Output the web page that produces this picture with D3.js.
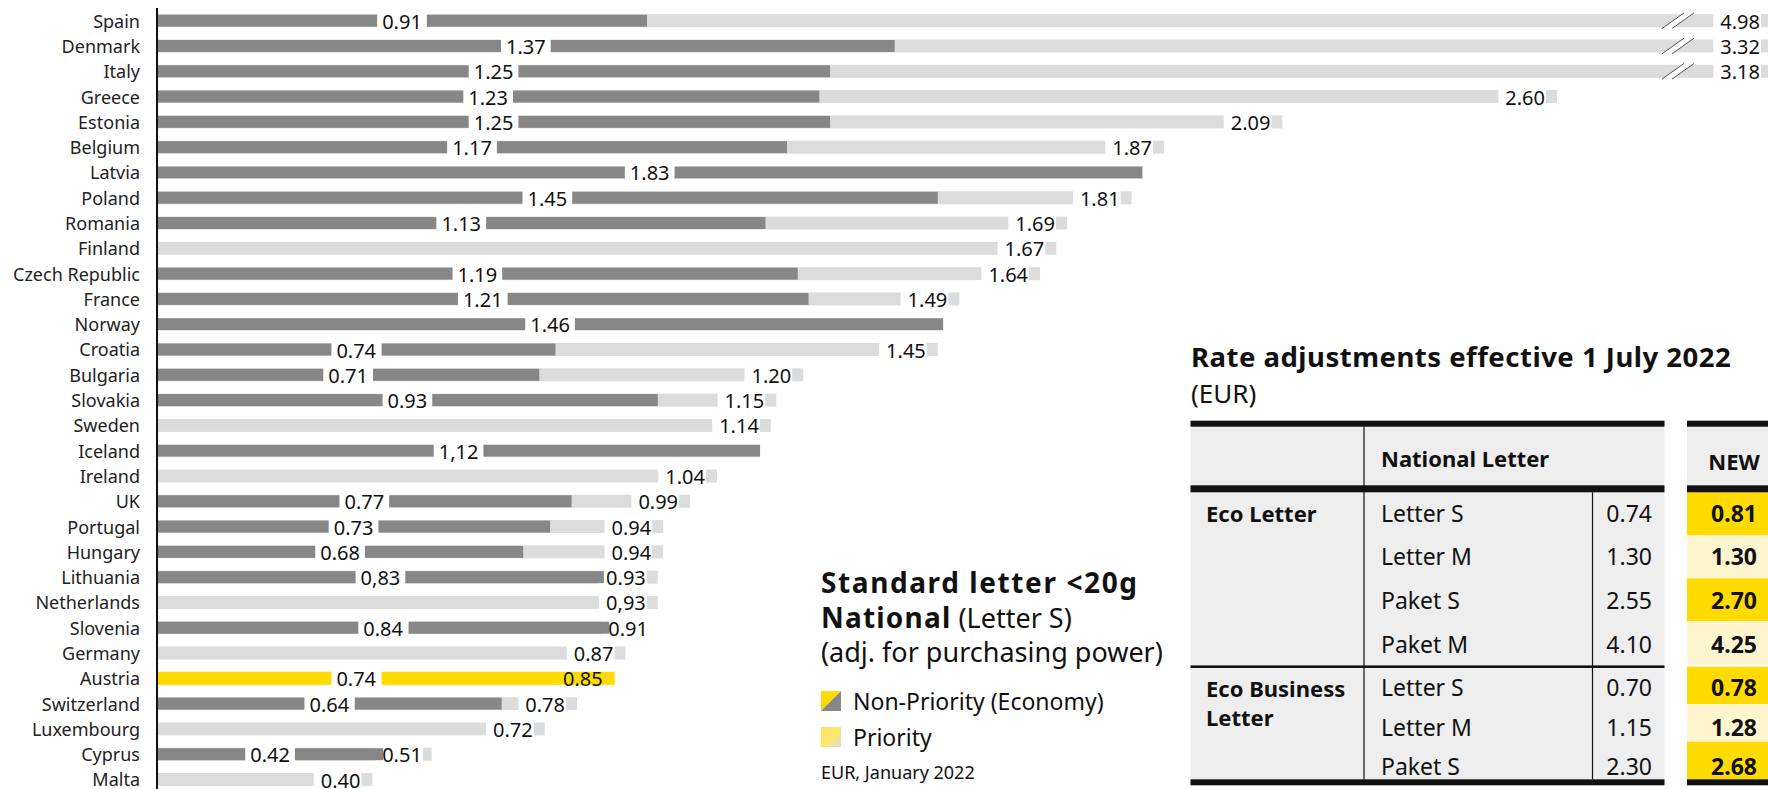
<!DOCTYPE html>
<html>
<head>
<meta charset="utf-8">
<script src="https://cdn.jsdelivr.net/npm/d3@7"></script>
<style>
  html, body { margin: 0; padding: 0; background: #fff; }
  svg { display: block; font-family: "Noto Sans", sans-serif; }
</style>
</head>
<body>
<svg id="chart" width="1768" height="789"></svg>
<script>
// ---- data -------------------------------------------------------------
const countries = ["Spain", "Denmark", "Italy", "Greece", "Estonia", "Belgium", "Latvia", "Poland",
  "Romania", "Finland", "Czech Republic", "France", "Norway", "Croatia", "Bulgaria", "Slovakia",
  "Sweden", "Iceland", "Ireland", "UK", "Portugal", "Hungary", "Lithuania", "Netherlands",
  "Slovenia", "Germany", "Austria", "Switzerland", "Luxembourg", "Cyprus", "Malta"];
// Non-priority (economy) tariff, EUR adj. for purchasing power
const nonPriority = [0.91, 1.37, 1.25, 1.23, 1.25, 1.17, 1.83, 1.45, 1.13, null, 1.19, 1.21, 1.46,
  0.74, 0.71, 0.93, null, 1.12, null, 0.77, 0.73, 0.68, 0.83, null, 0.84, null, 0.74, 0.64, null, 0.42, null];
// Priority tariff
const priority = [4.98, 3.32, 3.18, 2.60, 2.09, 1.87, null, 1.81, 1.69, 1.67, 1.64, 1.49, null,
  1.45, 1.20, 1.15, 1.14, null, 1.04, 0.99, 0.94, 0.94, 0.93, 0.93, 0.91, 0.87, 0.85, 0.78, 0.72, 0.51, 0.40];
const highlighted = ["Austria"];
// labels printed with a decimal comma
const commaNonPriority = ["Iceland", "Lithuania"];
const commaPriority = ["Netherlands"];

// rate table
const tableGroups = ["Eco Letter", "Eco Business Letter"];
const tableProducts = ["Letter S", "Letter M", "Paket S", "Paket M", "Letter S", "Letter M", "Paket S"];
const tableGroupOf = [0, 0, 0, 0, 1, 1, 1];
const currentRates = [0.74, 1.30, 2.55, 4.10, 0.70, 1.15, 2.30];
const newRates = [0.81, 1.30, 2.70, 4.25, 0.78, 1.28, 2.68];

// ---- setup ------------------------------------------------------------
const W = 1768, H = 789;
const COL = { dark: "#878787", light: "#dcdcdc", yellow: "#ffdb00", yellowPale: "#fff6cf",
  ink: "#111", tableBg: "#eeeeee" };
const svg = d3.select("#chart");
const fmt = d3.format(".2f");

const x = d3.scaleLinear().domain([0, 2.6]).range([157, 1557]);
const y = d3.scalePoint().domain(countries).range([20.7, 779.5]);
const breakValue = 3;                       // longer bars are cut and run to the edge
const xEnd = v => v > breakValue ? W : x(v);
const lightH = 13, darkH = 12;

const rows = countries.map((c, i) => ({
  country: c, np: nonPriority[i], p: priority[i], hi: highlighted.includes(c)
}));

// drawing layers, back to front
const gLight = svg.append("g");
const gLightBox = svg.append("g");
const gDark = svg.append("g");
const gDarkBox = svg.append("g");
const gBreak = svg.append("g");
const gText = svg.append("g").attr("font-size", 20).attr("fill", COL.ink);

// ---- bars -------------------------------------------------------------
gLight.selectAll("rect").data(rows.filter(d => d.p != null)).join("rect")
  .attr("x", x(0)).attr("y", d => y(d.country) - lightH / 2)
  .attr("width", d => xEnd(d.p) - x(0)).attr("height", lightH)
  .attr("fill", d => d.hi ? COL.yellow : COL.light);
gDark.selectAll("rect").data(rows.filter(d => d.np != null)).join("rect")
  .attr("x", x(0)).attr("y", d => y(d.country) - darkH / 2)
  .attr("width", d => x(d.np) - x(0)).attr("height", darkH)
  .attr("fill", d => d.hi ? COL.yellow : COL.dark);

// break marks on the cut bars
rows.filter(d => d.p > breakValue).forEach(d => {
  const cy = y(d.country), bx = W - 96;
  gBreak.append("path")
    .attr("d", `M${bx - 10},${cy + 7.8} L${bx + 12},${cy - 7.8} L${bx + 22},${cy - 7.8} L${bx},${cy + 7.8} Z`)
    .attr("fill", "#fff");
  [0, 10].forEach(o => gBreak.append("line")
    .attr("x1", bx - 10 + o).attr("y1", cy + 7.8)
    .attr("x2", bx + 12 + o).attr("y2", cy - 7.8)
    .attr("stroke", "#555").attr("stroke-width", 1));
});

// ---- value labels ------------------------------------------------------
rows.forEach(d => {
  const cy = y(d.country);
  if (d.np != null) {
    let s = fmt(d.np);
    if (commaNonPriority.includes(d.country)) s = s.replace(".", ",");
    const t = gText.append("text").attr("x", (x(0) + x(d.np)) / 2).attr("y", cy + 8)
      .attr("text-anchor", "middle").text(s);
    const b = t.node().getBBox();
    gDarkBox.append("rect").attr("x", b.x - 5).attr("y", cy - 8)
      .attr("width", b.width + 10).attr("height", 16).attr("fill", "#fff");
  }
  if (d.p != null) {
    let s = fmt(d.p);
    if (commaPriority.includes(d.country)) s = s.replace(".", ",");
    const t = gText.append("text").attr("y", cy + 8).text(s);
    const w = t.node().getComputedTextLength();
    let left = (d.p > breakValue ? W - 8 : x(d.p) - 12) - w;
    if (d.np != null) left = Math.max(left, x(d.np) - 1);   // keep clear of the economy bar
    t.attr("x", left);
    if (!d.hi) {
      gLightBox.append("rect").attr("x", left - 7).attr("y", cy - 8)
        .attr("width", w + 8).attr("height", 16).attr("fill", "#fff");
    }
  }
});

// ---- category axis ------------------------------------------------------
const yAxis = svg.append("g").attr("transform", `translate(${x(0)},0)`)
  .call(d3.axisLeft(y).tickSize(0).tickPadding(17));
yAxis.select(".domain").attr("d", `M0,8V${H}`).attr("stroke", "#111").attr("stroke-width", 2);
yAxis.selectAll("text").attr("font-family", "Noto Sans, sans-serif").attr("font-size", 18)
  .attr("fill", "#222").attr("dy", "0.36em");

// ---- legend block -------------------------------------------------------
const leg = svg.append("g").attr("fill", COL.ink);
leg.append("text").attr("x", 821).attr("y", 593).attr("font-size", 28).attr("font-weight", 700)
  .attr("letter-spacing", 1.6).text("Standard letter <20g");
const l2 = leg.append("text").attr("x", 821).attr("y", 628).attr("font-size", 27);
l2.append("tspan").attr("font-weight", 700).attr("font-size", 28).attr("letter-spacing", 1.2).text("National");
l2.append("tspan").text(" (Letter S)");
leg.append("text").attr("x", 821).attr("y", 662).attr("font-size", 27)
  .text("(adj. for purchasing power)");

const defs = svg.append("defs");
const grad = defs.append("linearGradient").attr("id", "prioGrad")
  .attr("x1", 0).attr("y1", 0).attr("x2", 1).attr("y2", 1);
grad.append("stop").attr("offset", "0%").attr("stop-color", "#ffe45c");
grad.append("stop").attr("offset", "55%").attr("stop-color", "#ffe66e");
grad.append("stop").attr("offset", "100%").attr("stop-color", "#dcdcdc");

const sw = 20;
const s1 = leg.append("g").attr("transform", "translate(821,691)");
s1.append("path").attr("d", `M0,0H${sw}L0,${sw}Z`).attr("fill", COL.yellow);
s1.append("path").attr("d", `M${sw},0V${sw}H0Z`).attr("fill", COL.dark);
leg.append("text").attr("x", 853).attr("y", 710).attr("font-size", 23).text("Non-Priority (Economy)");
leg.append("rect").attr("x", 821).attr("y", 727).attr("width", sw).attr("height", sw)
  .attr("fill", "url(#prioGrad)");
leg.append("text").attr("x", 853).attr("y", 746).attr("font-size", 23).text("Priority");
leg.append("text").attr("x", 821).attr("y", 779).attr("font-size", 18).text("EUR, January 2022");

// ---- rate table ---------------------------------------------------------
const tb = svg.append("g").attr("fill", COL.ink);
tb.append("text").attr("x", 1191).attr("y", 367).attr("font-size", 27.5).attr("font-weight", 700)
  .attr("letter-spacing", 0.5).text("Rate adjustments effective 1 July 2022");
tb.append("text").attr("x", 1191).attr("y", 403).attr("font-size", 26).text("(EUR)");

const T = { left: 1190.5, right: 1664.5, c1: 1364, c2: 1592.5, newL: 1687, newR: W, newMid: 1734,
  top: 420.7, headBot: 485.3, bodyTop: 492.3, bottom: 779.3 };
const groupRowH = [43, 37.6];      // cell height per group
const groupTextPitch = [43.6, 39.7]; // baseline spacing per group
// row bands
let yy = T.bodyTop, k = 0, gStart = T.bodyTop;
const bands = tableProducts.map((p, i) => {
  const g = tableGroupOf[i];
  if (i > 0 && g !== tableGroupOf[i - 1]) { yy += 2.3; k = 0; gStart = yy; }
  const b = { y0: yy, y1: yy + groupRowH[g], g, base: gStart + 29.4 + k * groupTextPitch[g] };
  yy = b.y1; k++;
  return b;
});
const sepY = bands[4].y0 - 1.2;

tb.append("rect").attr("x", T.left).attr("y", T.top).attr("width", T.right - T.left)
  .attr("height", T.bottom - T.top).attr("fill", COL.tableBg);
tb.append("rect").attr("x", T.newL).attr("y", T.top).attr("width", T.newR - T.newL)
  .attr("height", T.headBot - T.top).attr("fill", COL.tableBg);
tb.selectAll("rect.cell").data(bands).join("rect").attr("class", "cell")
  .attr("x", T.newL).attr("y", d => d.y0).attr("width", T.newR - T.newL)
  .attr("height", d => d.y1 - d.y0)
  .attr("fill", (d, i) => i % 2 === 0 ? COL.yellow : COL.yellowPale);

// rules
const thick = (x0, x1, yv, h) => tb.append("rect").attr("x", x0).attr("y", yv)
  .attr("width", x1 - x0).attr("height", h).attr("fill", "#111");
[[T.left, T.right], [T.newL, T.newR]].forEach(([a, b]) => {
  thick(a, b, T.top, 6);
  thick(a, b, T.headBot, 7);
  thick(a, b, T.bottom, 6);
});
thick(T.left, T.right, sepY, 2.6);
tb.append("line").attr("x1", T.c1).attr("x2", T.c1).attr("y1", T.top + 6).attr("y2", T.bottom)
  .attr("stroke", "#111").attr("stroke-width", 1.2);
tb.append("line").attr("x1", T.c2).attr("x2", T.c2).attr("y1", T.bodyTop).attr("y2", T.bottom)
  .attr("stroke", "#111").attr("stroke-width", 1.2);

// headers
tb.append("text").attr("x", 1381).attr("y", 467).attr("font-size", 22).attr("font-weight", 700)
  .text("National Letter");
tb.append("text").attr("x", T.newMid).attr("y", 470).attr("text-anchor", "middle")
  .attr("font-size", 22).attr("font-weight", 700).text("NEW");

// group labels
tb.append("text").attr("x", 1206).attr("y", bands[0].base).attr("font-size", 22)
  .attr("font-weight", 700).text(tableGroups[0]);
const gl = tb.append("text").attr("x", 1206).attr("y", bands[4].base + 1).attr("font-size", 22)
  .attr("font-weight", 700);
gl.append("tspan").attr("x", 1206).text("Eco Business");
gl.append("tspan").attr("x", 1206).attr("dy", 28.5).text("Letter");

// rows
bands.forEach((b, i) => {
  tb.append("text").attr("x", 1381).attr("y", b.base).attr("font-size", 23).text(tableProducts[i]);
  tb.append("text").attr("x", 1652).attr("y", b.base).attr("text-anchor", "end").attr("font-size", 23)
    .text(fmt(currentRates[i]));
  tb.append("text").attr("x", T.newMid).attr("y", b.base).attr("text-anchor", "middle")
    .attr("font-size", 23).attr("font-weight", 700).text(fmt(newRates[i]));
});
</script>
</body>
</html>
